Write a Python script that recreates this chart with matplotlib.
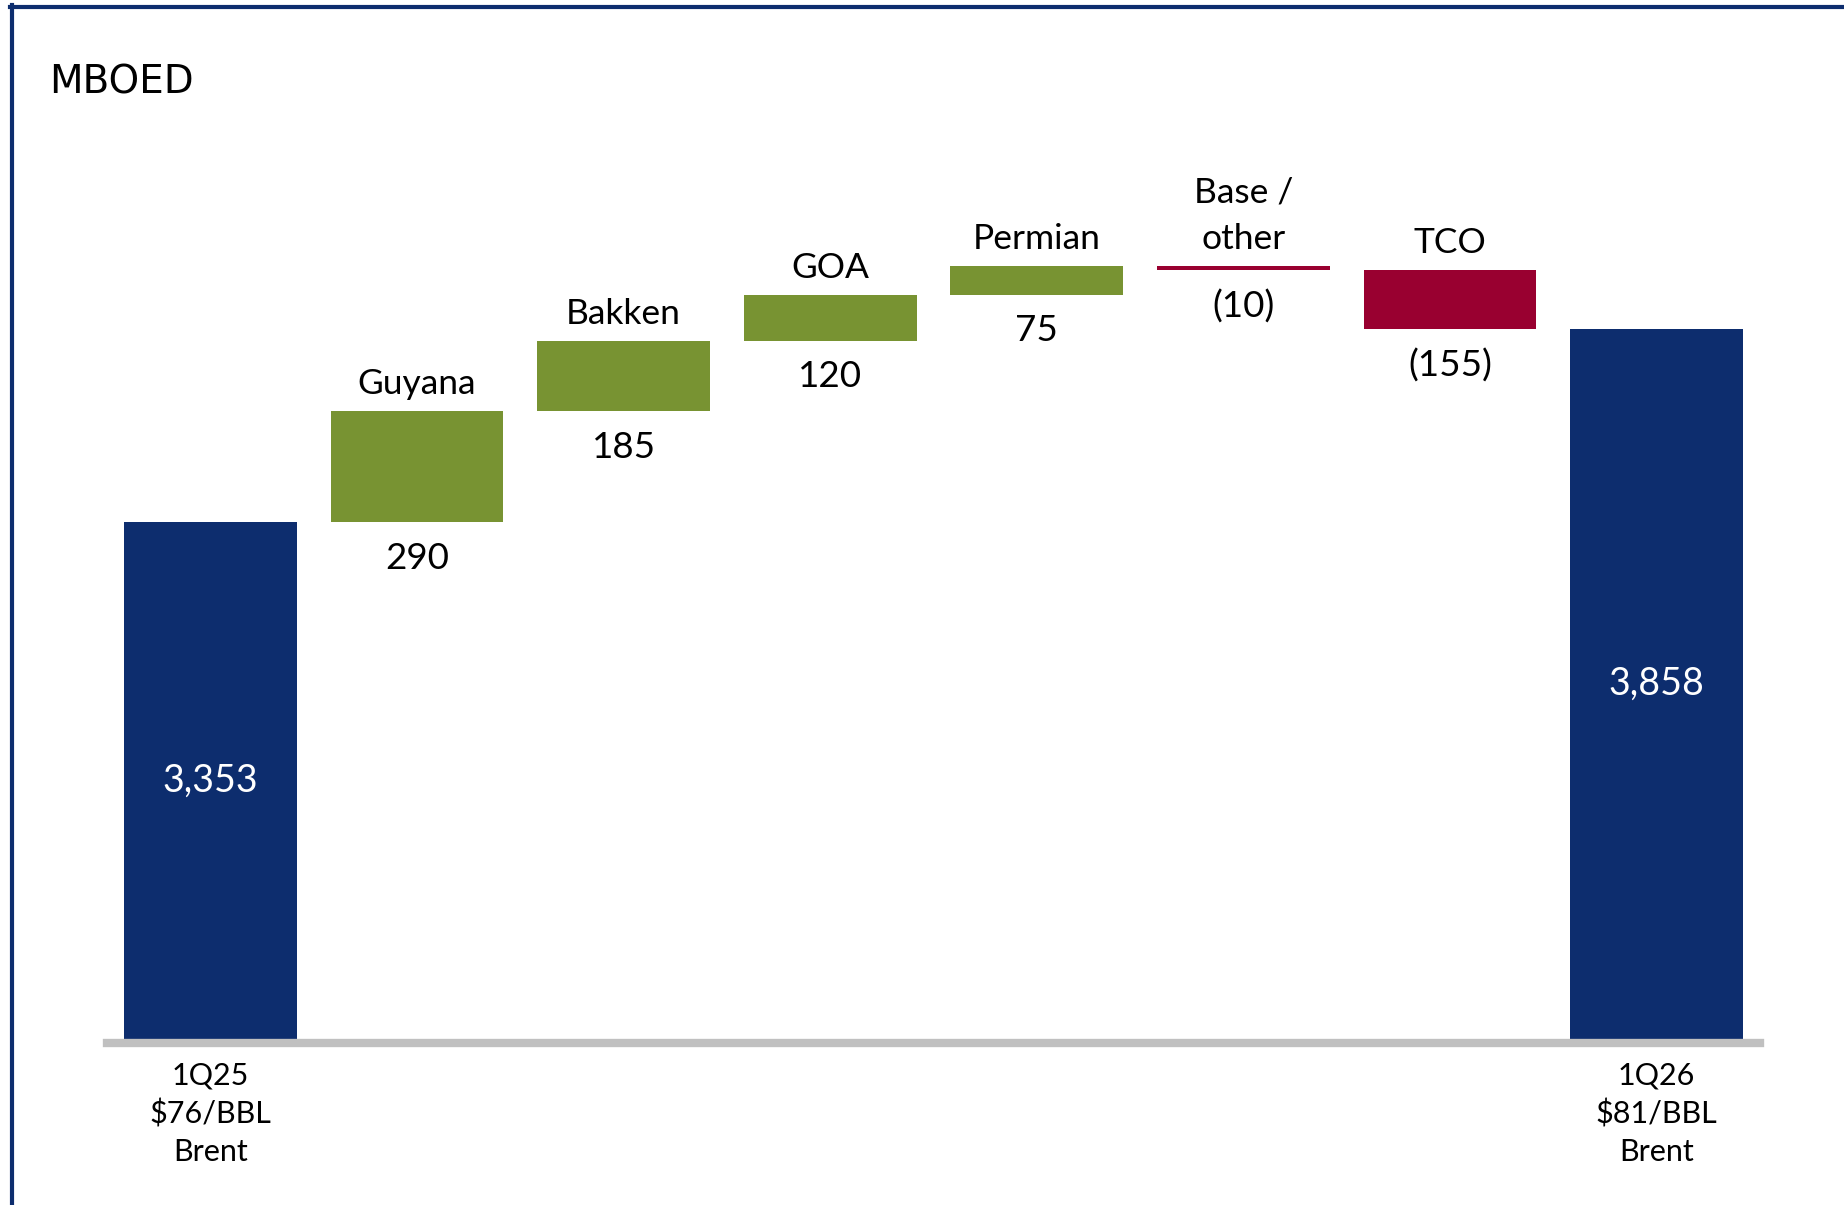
import matplotlib.pyplot as plt
from matplotlib.lines import Line2D

# data
labels = ["1Q25\n$76/BBL\nBrent", "Guyana", "Bakken", "GOA", "Permian",
          "Base /\nother", "TCO", "1Q26\n$81/BBL\nBrent"]
start_value = 3353
changes = [290, 185, 120, 75, -10, -155]
end_value = 3858
change_text = ["290", "185", "120", "75", "(10)", "(155)"]

navy = "#0D2D6E"
green = "#789332"
red = "#990030"
grey = "#C0C0C0"
font = "Lato"

W, H = 1844, 1205
fig = plt.figure(figsize=(W / 100, H / 100), dpi=100)

# axes placed so that the grey base line runs from px 107 to 1760
ax = fig.add_axes([107 / W, (H - 1043) / H, (1760 - 107) / W, (1043 - 100) / H])
ax.set_xlim(-0.5, len(labels) - 0.5)
ax.set_ylim(1989.5, 4458)

bw = 0.836
x = list(range(len(labels)))

# totals
ax.bar(x[0], start_value - 2000, bottom=2000, width=bw, color=navy, zorder=2)
ax.bar(x[-1], end_value - 2000, bottom=2000, width=bw, color=navy, zorder=2)
ax.text(x[0], (start_value + 2000) / 2, f"{start_value:,}", color="white",
        ha="center", va="center", fontsize=27, family=font)
ax.text(x[-1], (end_value + 2000) / 2, f"{end_value:,}", color="white",
        ha="center", va="center", fontsize=27, family=font)

# floating steps
level = start_value
for i, c in enumerate(changes):
    xi = x[i + 1]
    lo = min(level, level + c)
    hi = max(level, level + c)
    ax.bar(xi, hi - lo, bottom=lo, width=bw, color=green if c > 0 else red, zorder=2)
    ax.annotate(labels[xi], (xi, hi), xytext=(0, 8), textcoords="offset points",
                ha="center", va="bottom", fontsize=25.5, family=font,
                linespacing=1.55)
    ax.annotate(change_text[i], (xi, lo), xytext=(0, -14), textcoords="offset points",
                ha="center", va="top", fontsize=26.5, family=font)
    level += c

# category labels under the totals
for xi in (x[0], x[-1]):
    ax.annotate(labels[xi], (xi, 1989.5), xytext=(0, -13), textcoords="offset points",
                ha="center", va="top", fontsize=22, family=font, linespacing=1.42)

for s in ("top", "right", "left"):
    ax.spines[s].set_visible(False)
ax.spines["bottom"].set_color(grey)
ax.spines["bottom"].set_linewidth(6)
ax.spines["bottom"].set_zorder(3)
ax.set_xticks([])
ax.set_yticks([])

fig.text(49 / W, 1 - 94 / H, "MBOED", fontsize=28, family="DejaVu Sans",
         ha="left", va="baseline")

# navy frame at top and left
fig.add_artist(Line2D([12 / W, 12 / W], [0, 1 - 5 / H], color=navy, lw=3,
                      transform=fig.transFigure))
fig.add_artist(Line2D([10 / W, 1], [1 - 7 / H, 1 - 7 / H], color=navy, lw=3,
                      transform=fig.transFigure))

fig.savefig("out.png", dpi=100)
